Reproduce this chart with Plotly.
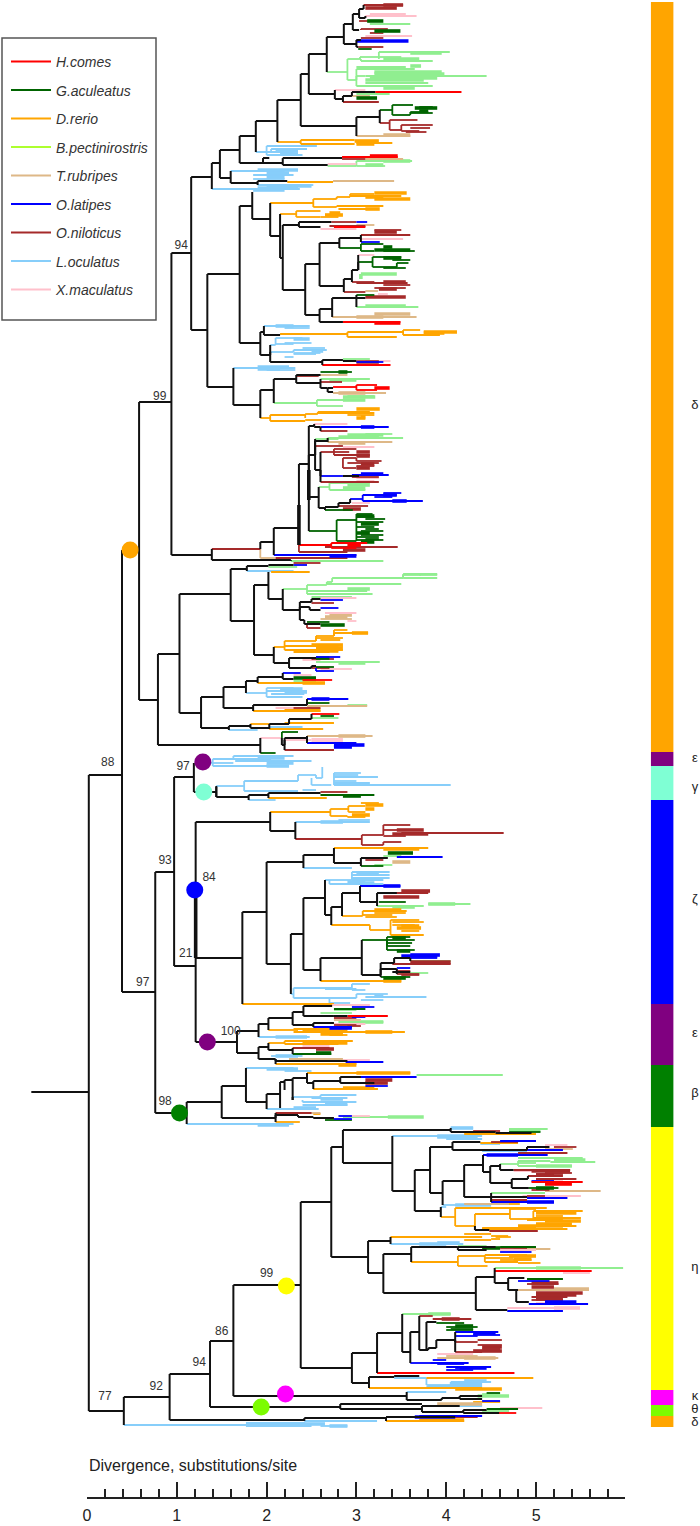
import plotly.graph_objects as go

SPECIES = ["H.comes", "G.aculeatus", "D.rerio", "B.pectinirostris", "T.rubripes",
           "O.latipes", "O.niloticus", "L.oculatus", "X.maculatus"]
LEGEND_COLORS = ["#ff0000", "#006400", "#ffa500", "#adff2f", "#deb887",
                 "#0000ff", "#a52a2a", "#87cefa", "#ffc0cb"]
TREE_COLORS = {"k": "#111111", "r": "#ff0000", "g": "#006400", "o": "#ffa500", "l": "#90ee90",
               "t": "#deb887", "b": "#0000ff", "n": "#a52a2a", "c": "#87cefa", "p": "#ffc0cb"}

# branch = (species code, start divergence, end divergence, row, parent row)
# upper-case code = densely packed tips; no parent row = no connector
BACKBONE = [
 ("k",-0.62,0.02,1092),("k",0.02,0.39,775,1092),("k",0.39,0.58,550,775),("k",0.58,0.94,402,550),
 ("k",0.94,1.16,253,402),("k",1.16,1.39,177,253),("k",1.39,1.48,163,177),("k",1.48,1.70,150,163),
 ("k",1.70,1.88,136,150),("k",1.88,2.12,121,136),("k",2.12,2.38,100,121),("k",2.38,2.47,74,100),
 ("k",2.47,2.67,54,74),("k",2.67,2.86,37,54),
 ("k",0.02,0.41,1411,1092),("k",0.41,0.92,1397,1411),("k",0.92,1.37,1374,1397),("k",1.37,1.63,1341,1374),
 ("k",1.63,2.38,1285,1341),("k",2.38,2.72,1202,1285),("k",0.39,0.76,992,775),("k",0.76,0.97,872,992),
 ("k",0.97,1.19,777,872),("k",0.97,1.21,966,872),("K",1.21,1.21,958,890),("k",1.21,1.21,822,966),("k",1.21,1.21,1042,966),
 ("K",2.36,2.36,545,505),("K",2.47,2.47,500,470),
]
DELTA_A = [
 ("k",2.86,2.96,24,37),("k",2.96,3.03,14,24),("k",3.03,3.08,9,14),("k",2.96,3.03,30,24),("k",2.86,3.00,44,37),
 ("k",3.03,3.1,18,14),("k",3.0,3.02,47,44),("k",3.0,3.05,40,44),
 ("n",3.08,3.52,5,9),("N",3.30,3.52,5),("N",3.10,3.45,8),("p",3.1,3.67,16,18),("p",3.15,3.55,14),
 ("n",3.03,3.25,21),("G",3.12,3.30,21),("l",3.15,3.60,24),("n",3.05,3.35,29,30),("G",3.20,3.49,31),("n",3.15,3.30,33),
 ("p",3.10,3.62,36),("n",3.05,3.3,38),("B",3.00,3.58,41),("n",3.02,3.30,47),("g",3.02,3.17,49),
 ("l",2.67,2.90,72,54),("l",2.90,3.04,59,72),("l",3.25,4.04,52,59),("L",3.6,3.95,53),("l",3.04,3.25,57,59),("l",3.25,3.5,57),
 ("l",3.05,3.85,61,59),("L",3.3,3.7,59),("l",2.90,3.0,80,72),("l",3.0,3.1,76,80),("l",3.1,4.45,76),("L",3.2,3.95,72),("L",3.2,3.98,74),
 ("L",3.15,3.9,78),("l",3.0,3.65,69,80),("L",3.6,3.72,66),("l",3.0,3.55,67),("L",3.1,3.75,80),("l",3.1,3.8,83),
 ("L",3.3,3.65,88),("l",3.0,3.85,86,80),
 ("k",2.47,2.76,94,74),("p",2.76,3.1,90,94),("k",2.76,2.85,99,94),("k",2.85,2.95,96,99),("k",2.95,3.21,92,96),("r",3.21,4.17,92),
 ("l",3.0,3.37,94),("t",2.95,3.15,96),("G",3.0,3.23,98),("n",2.85,3.25,102,99),
 ("k",2.38,3.0,126,100),("k",3.0,3.26,117,126),("g",3.26,3.4,110,117),("g",3.4,3.63,105,110),("g",3.4,3.6,115,110),("g",3.6,3.8,112,115),
 ("G",3.65,3.9,108),("g",3.7,3.85,107),("g",3.6,3.85,113),("G",3.7,3.8,111),
 ("n",3.26,3.37,123,117),("n",3.37,3.68,120,123),("n",3.37,3.5,130,123),("n",3.5,3.85,125,130),("n",3.5,3.7,131,130),("n",3.6,3.82,128),("n",3.55,3.78,132),
 ("t",3.0,3.6,136,126),("T",3.3,3.6,135),
 ("o",2.12,2.38,142,121),("o",2.38,2.98,140,142),("o",2.38,2.98,144,142),("O",2.98,3.25,141),("O",3.0,3.2,144),("o",3.0,3.4,143),
 ("c",1.88,2.30,152,136),("c",2.0,2.56,146,152),("c",2.05,2.45,149,152),("C",2.1,2.35,151),("c",2.0,2.4,155,152),("C",2.15,2.35,154),
 ("k",1.70,1.96,163,150),("k",1.96,2.03,158,163),("k",1.96,2.18,163),("k",2.18,2.84,158,163),("k",2.18,2.68,165,163),
 ("r",2.84,3.46,157),("R",3.15,3.46,156),("n",2.84,3.1,159),("t",3.1,3.52,159),
 ("p",2.68,3.0,164),("l",2.68,3.0,166),("l",3.0,3.62,161,166),("L",3.3,3.6,161),("l",3.0,3.32,166),("L",3.1,3.3,165),
 ("k",1.48,1.60,178,163),("c",1.6,2.2,171,178),("C",1.9,2.35,170),("c",1.85,2.3,175),("C",2.0,2.25,173),("C",2.0,2.2,177),("c",1.85,2.2,179),
 ("k",1.6,1.9,183,178),("k",1.9,2.23,181,183),("o",2.23,2.74,182),("t",2.74,3.42,181),("c",1.9,2.4,185,183),("C",2.0,2.5,186),("c",2.3,2.52,185),
 ("c",1.39,2.37,189,177),("C",1.9,2.35,188),("C",1.85,2.2,190),
]
DELTA_B = [
 ("k",1.16,1.34,330,253),("k",1.34,1.70,274,330),("k",1.70,1.84,206,274),("k",1.84,1.84,192,206),("k",1.84,2.04,219,206),
 ("o",2.04,2.52,203,219),("o",2.52,2.78,199,203),("o",2.52,2.78,207,203),("o",2.78,2.93,197,199),("O",3.2,3.56,193),("o",2.93,3.2,194,197),
 ("O",3.2,3.6,199),("o",2.93,3.5,196),("O",3.1,3.3,197),("o",2.78,3.3,206,207),("O",3.1,3.26,209),("o",2.8,3.2,209),
 ("k",2.04,2.15,236,219),("o",2.15,2.33,214,236),("o",2.33,2.6,211,214),("o",2.33,2.6,217,214),("O",2.7,2.82,213),("o",2.6,2.8,217),("O",2.65,2.85,215),
 ("k",2.15,2.18,258,236),("k",2.18,2.36,225,258),("k",2.36,2.72,222,225),("n",2.72,3.0,222),("b",3.0,3.12,222),("k",2.36,2.6,227,225),
 ("p",2.6,3.0,229),("n",2.7,3.1,226),("r",2.75,3.1,227),("t",3.0,3.2,225),
 ("k",2.18,2.43,290,258),("k",2.43,2.59,264,290),("k",2.59,2.81,243,264),("k",2.81,3.05,238,243),
 ("n",3.05,3.6,235,238),("N",3.2,3.45,232),("n",3.2,3.5,230),("p",3.05,3.52,239),("b",3.05,3.26,242,238),
 ("g",2.81,3.05,248,243),("g",3.05,3.3,244,248),("g",3.05,3.2,251,248),("G",3.2,3.6,250),("g",3.3,3.65,251),("G",3.3,3.4,247),
 ("k",2.59,2.86,286,264),("k",2.86,2.95,279,286),("k",2.95,3.02,270,279),("g",3.02,3.18,262,270),("g",3.18,3.5,257,262),("G",3.3,3.5,258),("g",3.4,3.6,260),
 ("g",3.18,3.45,267,262),("g",3.45,3.58,263,267),("g",3.3,3.55,268),("p",3.02,3.2,255,270),("L",3.05,3.45,274,279),
 ("n",2.95,3.2,282,279),("n",3.0,3.57,283),("N",3.3,3.55,282),("n",3.3,3.6,285),("n",3.2,3.55,288),("N",3.25,3.45,289),
 ("n",2.86,3.1,292,286),("t",3.1,3.24,291),("p",3.24,3.35,294),
 ("k",2.43,2.59,315,290),("k",2.59,2.73,309,315),("k",2.73,3.0,298,309),("g",3.0,3.2,295,298),("N",3.1,3.55,297),("k",3.0,3.1,298),
 ("l",3.0,3.69,307,298),("L",3.1,3.55,306),("t",2.73,3.67,317,309),("T",3.2,3.6,314),("T",3.0,3.3,317),
 ("k",2.59,2.85,322,315),("r",2.85,3.49,322),("R",3.2,3.49,323),
 ("k",1.70,1.93,343,274),("k",1.93,1.97,332,343),("c",1.97,2.48,326,332),("C",2.1,2.3,326),("c",2.2,2.48,328),
 ("k",1.97,2.15,335,332),("o",2.15,2.9,334),("o",2.9,3.52,332,335),("o",3.52,3.71,330,332),("o",3.52,3.93,335,332),("o",2.9,3.45,337,335),
 ("O",3.75,4.12,332),("O",3.75,3.98,333),
 ("k",1.93,2.04,355,343),("c",2.04,2.1,345,355),("c",2.1,2.4,338,345),("c",2.1,2.3,344),("C",2.3,2.48,339),("c",2.2,2.5,343),
 ("c",2.04,2.3,352,355),("c",2.3,2.67,350,352),("c",2.4,2.65,348),("C",2.5,2.63,351),("c",2.3,2.55,354),("c",2.2,2.3,357),("c",2.3,2.6,353),
 ("k",2.04,2.62,362,355),("k",2.62,2.85,360,362),("l",2.85,3.15,359),("k",2.85,3.0,361),("b",3.0,3.3,362),("N",3.0,3.25,362),("p",3.1,3.38,361),("r",2.62,3.38,365,362),
 ("k",1.34,1.63,387,330),("c",1.63,2.32,368,387),("C",1.9,2.25,367),("C",1.9,2.15,369),("c",2.0,2.32,370),
 ("k",1.63,1.93,405,387),("k",1.93,2.08,390,405),("k",2.08,2.33,379,390),("k",2.33,2.6,375,379),("g",2.6,2.95,372),("G",2.8,2.9,372),
 ("n",2.33,2.58,376),("t",2.58,2.9,375),("k",2.33,2.6,383,379),("l",2.6,3.15,379,383),("L",2.7,3.0,380),("n",2.6,2.84,382),
 ("k",2.6,2.68,388,383),("k",2.68,2.74,388),("r",2.74,3.0,387),("r",3.0,3.23,385,387),("r",3.0,3.23,390,387),("R",3.2,3.37,388),
 ("k",2.68,2.74,392,388),("t",2.74,3.33,393),("T",2.8,3.1,393),
 ("l",2.08,2.56,403,390),("l",2.56,3.04,400,403),("l",2.56,2.85,406,403),("L",2.85,3.21,397),("L",2.85,3.1,400),("l",2.9,3.2,396),
 ("o",1.93,2.04,418,405),("o",2.04,2.43,415,418),("o",2.04,2.43,421,418),("o",2.43,2.57,414,418),("o",2.43,2.62,420),
 ("o",2.57,3.15,412,414),("O",3.0,3.26,409),("o",2.57,3.2,413),("o",2.9,3.2,415),("O",3.05,3.1,417),("O",3.0,3.1,418),
]
DELTA_C = [
 ("k",0.94,1.39,555,402),("n",1.39,1.93,549,555),("k",1.39,2.27,560,555),("k",1.93,2.08,542,549),("t",1.93,2.1,558,549),("n",2.1,2.9,558),
 ("k",2.08,2.36,528,542),("k",2.36,2.47,464,528),("k",2.47,2.53,426,464),("p",2.53,2.9,424,426),("k",2.53,2.6,427),
 ("b",2.6,3.02,427),("b",2.85,3.36,427),("B",3.05,3.2,427),("n",2.6,2.9,431,427),
 ("k",2.47,2.54,455,464),("l",2.54,2.8,439,455),("k",2.54,2.68,441,455),("l",2.68,3.52,438,441),("L",2.9,3.3,435),("L",2.8,3.25,437),("l",3.1,3.4,434),
 ("t",2.68,3.4,442,441),("T",2.8,3.1,443),("n",2.54,2.85,446,455),("p",2.85,3.2,447),
 ("k",2.54,2.6,470,455),("n",2.6,2.92,452,470),("n",2.75,3.0,449,452),("n",2.75,3.15,455,452),("N",3.0,3.15,452),("N",3.0,3.15,456),
 ("n",2.85,3.0,458),("n",3.0,3.28,461,458),("n",2.9,3.25,463),("N",3.05,3.2,464),("n",3.0,3.2,466),("n",2.85,3.0,468,458),("N",3.0,3.15,468),
 ("b",2.6,2.85,476,470),("k",2.85,3.03,476),("B",3.05,3.3,474),("b",2.95,3.36,475),("n",2.95,3.25,477),("p",3.0,3.25,478),
 ("n",2.6,3.25,482,470),("p",3.0,3.2,481),
 ("k",2.47,2.58,497,464),("l",2.58,2.7,487,497),("l",2.7,3.15,483,487),("l",2.7,3.1,490,487),("L",2.9,3.15,485),("L",2.85,3.1,488),
 ("k",2.58,2.65,508,497),("k",2.65,2.8,507,508),("k",2.8,2.93,503,507),("b",2.93,3.07,499,503),("b",3.07,3.45,495,499),("b",3.07,3.74,501,499),("B",3.4,3.56,501),
 ("b",3.3,3.5,493),("B",3.3,3.45,495),("b",3.2,3.4,497),("p",2.95,3.15,503),
 ("n",2.8,3.13,506),("N",2.85,3.05,509),("g",2.65,2.96,510,508),
 ("g",2.47,2.78,531,464),("g",2.78,3.0,520,531),("g",2.78,3.0,541,531),("g",3.0,3.18,514,541),("g",3.0,3.2,517),("g",3.1,3.32,519),("G",3.0,3.2,516),
 ("g",3.0,3.3,522),("G",3.05,3.25,524),("g",3.0,3.2,527),("g",3.1,3.25,529),("g",3.05,3.3,531),("G",3.0,3.15,533),("g",3.05,3.3,535),
 ("g",3.0,3.25,537),("g",3.0,3.3,540),("G",3.05,3.2,542),("g",3.1,3.25,539),
 ("r",2.36,2.72,545,528),("r",2.72,3.12,543,545),("R",2.9,3.05,545),("r",2.72,3.0,548,545),("n",2.65,3.46,547),("N",2.85,3.1,550),("n",2.36,2.9,552,545),
 ("b",2.08,3.0,555,542),("B",2.7,3.0,556),("l",2.27,3.3,561,560),
 ("k",0.58,0.79,700,550),("k",0.79,1.03,654,700),("k",1.03,1.60,594,654),("k",1.6,1.78,569,594),("k",1.78,2.02,566,569),("c",1.78,2.3,571,569),
 ("l",2.02,2.34,567),("k",2.02,2.3,565),("n",2.3,2.6,563),("b",2.3,2.45,565),("o",2.05,2.48,572),
 ("k",1.6,1.86,621,594),("k",1.86,2.02,585,621),("k",2.02,2.18,599,585),("k",2.02,2.02,572,585),
 ("l",2.18,2.45,589,599),("l",2.45,2.67,585,589),("l",2.67,2.73,582,585),("l",2.73,3.52,578,582),("l",2.67,3.5,584),
 ("l",3.52,3.72,575,578),("l",3.52,3.9,574,578),("l",3.52,3.9,578),("l",3.7,3.9,575),
 ("l",2.45,3.18,594,589),("l",2.45,3.12,591),("L",2.9,3.15,589),("l",2.5,2.95,597),
 ("k",2.18,2.37,610,599),("k",2.37,2.5,602,610),("k",2.5,2.6,599,602),("b",2.6,2.85,600),("p",2.6,3.0,598),("n",2.5,2.75,603),
 ("k",2.37,2.48,607,610),("b",2.6,2.8,608),("k",2.48,2.6,610,607),("p",2.65,3.0,613),("T",2.65,2.9,617),("T",2.7,2.95,615),("t",2.6,2.95,619),("p",2.9,3.0,621),
 ("k",2.37,2.42,620,610),("k",2.42,2.6,624,620),("G",2.6,2.87,625),("n",2.45,2.6,628,624),("g",2.45,2.7,622),
 ("k",1.86,2.08,655,621),("o",2.08,2.2,647,655),("o",2.2,2.55,641,647),("o",2.55,2.75,636,641),("o",2.75,3.13,633,636),("O",2.95,3.13,633),("o",2.75,2.9,630,636),
 ("o",2.55,2.85,638,641),("o",2.6,2.82,640),("o",2.2,2.8,646,647),("O",2.5,2.85,645),("O",2.55,2.85,648),("o",2.2,2.85,650,647),("O",2.55,2.8,651),("o",2.3,2.7,652),
 ("k",2.08,2.25,663,655),("k",2.25,2.55,658,663),("b",2.55,2.82,657),("n",2.5,2.75,659),("G",2.55,2.7,658),("p",2.4,2.6,660),
 ("k",2.25,2.5,668,663),("k",2.5,2.55,666,668),("l",2.55,3.26,662),("L",2.8,3.1,663),("g",2.55,2.75,667),("p",2.6,2.95,669),("n",2.5,2.7,668),("b",2.55,2.75,671,668),
 ("k",1.03,1.27,713,654),("k",1.27,1.52,697,713),("k",1.52,1.77,687,697),("k",1.77,1.9,681,687),("k",1.9,2.18,677,681),("b",2.18,2.38,673,677),("p",2.3,2.5,675),
 ("k",2.18,2.3,679,677),("G",2.3,2.55,678),("r",2.4,2.73,680),("l",2.3,2.55,681),("o",1.9,2.65,683,681),("O",2.4,2.65,683),
 ("c",1.77,2.0,693,687),("c",2.0,2.3,688,693),("c",2.0,2.45,691),("c",2.05,2.42,694),("c",2.0,2.4,697,693),("C",2.2,2.45,692),("C",2.15,2.4,689),
 ("k",1.52,1.85,708,697),("k",1.85,2.45,705,708),("b",2.45,2.91,699,705),("B",2.5,2.7,699),("g",2.45,2.7,703),("t",2.45,3.12,706),("l",2.9,3.12,705),("p",2.1,2.5,708),
 ("o",1.85,2.6,711,708),("O",2.2,2.6,710),("n",2.3,2.6,708),
 ("k",1.27,1.58,728,713),("k",1.58,1.82,726,728),("c",1.58,1.9,730,728),("o",1.82,2.03,724,726),("k",1.82,2.03,728,726),("k",2.03,2.25,724,728),
 ("o",2.2,2.55,723),("k",2.25,2.5,719,724),("r",2.5,2.81,714,719),("l",2.5,2.8,718),("g",2.6,2.75,716),("o",2.25,2.75,723),("o",2.03,2.63,729,728),("c",2.03,2.4,727),
 ("k",0.79,1.93,745,700),("p",1.93,2.17,738,745),("k",2.17,2.2,745,738),("g",2.17,2.35,732,738),("p",2.2,2.5,740,745),("k",2.2,2.45,738,745),
 ("t",2.45,3.18,736,738),("T",2.8,3.1,736),("p",2.5,2.85,739),("b",2.45,3.0,743,738),("B",2.75,3.09,745),("B",2.75,2.95,747),("p",2.5,2.85,741),("n",2.2,2.75,750,745),
 ("g",1.93,2.1,753,745),
]
EPS_GAMMA = [
 ("c",1.38,1.63,763),("c",1.4,2.05,759,766),("c",1.4,2.2,766),("c",1.63,2.3,756,759),("C",1.9,2.2,758),("c",1.65,2.5,761),("C",2.0,2.3,763),("C",2.0,2.25,766),
 ("k",1.19,1.44,792,777),("k",1.19,1.19,763,777),("k",1.44,1.44,787,797),
 ("c",1.44,1.75,786,792),("c",1.75,2.35,781,786),("c",1.75,2.35,791,786),("c",2.35,2.55,775,781),("c",2.55,2.62,778,775),("c",2.62,2.62,767,778),
 ("c",2.5,2.72,785,778),("c",2.75,3.05,773,785),("c",2.75,3.02,775),("c",2.75,3.24,777),("c",2.75,3.0,781),("c",2.75,3.15,783),("c",2.75,4.05,785),("c",2.4,2.55,790),
 ("k",1.44,1.8,797,792),("k",1.8,2.02,795,797),("k",2.02,2.6,793,795),("n",2.6,2.9,792),("g",2.6,3.2,795),("G",2.85,3.05,796),("o",2.02,2.67,798,795),("c",1.8,2.1,800,797),
]
ZETA = [
 ("k",1.21,2.04,822,822),("o",2.04,2.71,812,822),("o",2.71,2.91,809,812),("o",2.71,2.9,816,812),("o",2.91,3.1,806,809),("o",2.91,3.1,812,809),("o",2.9,3.1,817,816),
 ("O",3.1,3.3,805),("O",3.1,3.2,809),("o",3.05,3.25,803),("O",2.95,3.15,815),
 ("k",2.04,2.32,831,822),("c",2.32,3.15,822,831),("C",2.6,2.85,822),("c",2.8,3.15,820),
 ("n",2.32,3.06,839,831),("n",3.06,3.3,835,839),("n",3.06,3.3,845,839),("n",3.3,3.6,825,835),("n",3.3,3.55,830),("n",3.3,3.55,836),("n",3.3,3.5,842,845),
 ("N",3.45,3.75,830),("N",3.4,3.8,834),("n",3.5,4.64,833),
 ("k",1.21,1.73,958),("k",1.73,2.0,912,958),("k",2.0,2.41,862,912),("k",2.41,2.75,855,862),("o",2.75,3.8,848,855),("O",3.3,3.7,849),
 ("k",2.75,3.05,863,855),("k",3.05,3.35,858,863),("G",3.35,3.63,853),("b",3.45,3.96,857),("l",3.3,3.5,856),("T",3.4,3.6,862),("g",3.05,3.3,866,863),("l",3.2,3.4,865),("n",3.1,3.3,860),
 ("c",2.41,2.95,868,862),
 ("k",2.0,2.27,964,912),("k",2.27,2.41,934,964),("k",2.41,2.65,898,934),("c",2.65,2.95,880,898),("c",2.95,3.37,872,880),("c",2.95,3.37,875),("C",3.0,3.25,873),
 ("c",2.95,3.37,878),("c",2.95,3.3,880),("C",3.0,3.2,883),("c",2.7,3.3,884,880),("C",2.9,3.1,882),
 ("k",2.65,2.72,915,898),("k",2.72,2.84,907,915),("k",2.84,3.04,893,907),("b",3.04,3.49,886,893),("B",3.3,3.49,886),
 ("k",3.04,3.23,902,893),("k",3.23,3.45,893,902),("N",3.5,3.82,891),("n",3.3,3.8,893),("N",3.3,3.7,897),("p",3.3,3.6,896),("g",3.25,3.55,902),("l",3.23,3.75,906,902),
 ("l",3.8,4.27,904),("L",3.8,4.1,904),("L",3.4,3.65,907),
 ("o",2.84,3.07,916,907),("o",3.07,3.56,911,916),("o",3.07,3.4,915),("O",3.2,3.5,910),("o",3.2,3.55,913),("o",3.1,3.45,917),
 ("o",2.72,3.15,925,915),("o",3.15,3.38,930,925),("o",3.38,3.7,920,930),("o",3.4,3.75,922),("o",3.4,3.65,925),("O",3.5,3.7,926),("O",3.45,3.72,928),("o",3.5,3.7,931),("o",3.38,3.75,935,930),
 ("k",2.41,2.6,970,934),("k",2.6,3.06,958,970),("g",3.06,3.34,940,958),("g",3.34,3.6,937,940),("g",3.34,3.65,940),("G",3.4,3.55,938),("g",3.34,3.62,943,940),("g",3.34,3.6,946,940),("g",3.34,3.65,950,940),("G",3.45,3.6,951),
 ("k",3.06,3.27,975,958),("k",3.27,3.42,963,975),("k",3.42,3.6,958,963),("B",3.6,3.93,955),("b",3.6,3.9,958),("B",3.5,3.9,956),("l",3.6,4.05,961,958),("N",3.6,4.05,962),("n",3.4,4.05,964),
 ("k",3.27,3.45,969,975),("b",3.45,3.6,968),("n",3.45,3.7,974,969),("k",3.4,3.6,972),("l",3.5,3.8,973),("n",3.45,3.6,971),("g",3.27,3.6,977,975),("G",3.3,3.55,978),("n",3.5,3.7,975),
 ("o",2.6,3.5,981,970),("O",3.3,3.5,981),
 ("c",2.27,2.3,994,964),("c",2.3,2.95,988,994),("c",2.95,3.15,984,988),("c",2.95,3.1,990,988),("c",2.65,3.0,989),("c",2.3,3.0,998,994),("c",3.0,3.35,994,998),("c",3.1,3.78,997),
 ("C",3.2,3.3,996),("c",3.05,3.3,1000),("c",2.7,2.93,1003,998),
 ("o",1.73,2.75,1004,958),
]
EPS_BETA = [
 ("k",1.21,1.67,1042),("k",1.67,1.91,1031,1042),("k",1.91,2.02,1024,1031),("k",2.02,2.29,1018,1024),("k",2.29,2.41,1012,1018),("k",2.41,2.73,1006,1012),("p",2.73,3.15,1005),
 ("b",2.95,3.2,1007),("g",2.75,3.1,1009),("l",2.75,3.0,1010),("k",2.41,2.74,1016,1012),("k",2.74,2.9,1016),("r",2.9,3.35,1016),("l",2.6,2.95,1013),("b",2.95,3.1,1017),("n",2.75,3.0,1018),("t",2.75,3.05,1020),
 ("k",2.29,2.52,1025,1018),("k",2.52,2.75,1023,1025),("p",2.75,3.1,1024),("n",2.75,3.0,1025),("l",2.8,3.3,1022),("L",3.05,3.3,1022),("b",2.52,2.95,1027,1025),("n",2.9,3.05,1026),("B",2.7,2.95,1028),
 ("o",2.02,2.35,1030,1024),("o",2.3,3.54,1032),("O",3.1,3.4,1032),("o",2.3,2.9,1029),("O",2.4,2.9,1031),("o",2.7,2.9,1035),("O",2.6,2.85,1034),
 ("c",1.91,2.48,1037,1031),("C",2.1,2.45,1037),
 ("k",1.67,1.91,1053,1042),("k",1.91,2.02,1047,1053),("o",2.02,2.2,1043,1047),("o",2.2,2.96,1041,1043),("o",2.2,2.8,1044,1043),("O",2.4,2.9,1043),("O",2.7,2.85,1042),
 ("k",2.02,2.29,1050,1047),("n",2.29,2.7,1048,1050),("p",2.4,2.7,1046),("N",2.55,2.75,1049),("g",2.29,2.72,1054,1050),("G",2.55,2.72,1053),
 ("k",1.91,2.1,1059,1053),("c",2.05,2.4,1056),("C",2.1,2.35,1056),("k",2.1,2.9,1061,1059),("t",2.25,2.85,1059),("p",2.85,3.15,1060),("b",2.88,3.3,1062),("o",2.1,3.0,1064,1059),("O",2.8,3.0,1065),
 ("k",0.76,1.11,1113,992),("k",1.11,1.5,1102,1113),("k",1.5,1.77,1086,1102),("c",1.77,2.3,1068,1086),("C",2.0,2.35,1069),("c",2.2,2.5,1071),
 ("k",1.77,2.0,1102,1086),("k",2.0,2.15,1094,1102),("k",2.15,2.2,1082,1094),("k",2.15,2.15,1108,1094),("k",2.2,2.29,1080,1082),("k",2.2,2.2,1090,1082),("k",2.29,2.45,1078,1080),("k",2.29,2.29,1100,1080),
 ("o",2.45,3.6,1073,1078),("O",3.0,3.6,1073),("k",2.45,2.52,1083,1078),("k",2.52,2.82,1081,1083),("k",2.82,3.05,1077,1081),("b",2.95,3.67,1077),("l",3.67,4.63,1075),
 ("k",2.82,3.2,1083,1081),("N",3.1,3.4,1080),("N",3.1,3.35,1083),("b",3.1,3.35,1086),("o",2.52,3.24,1089,1083),("O",2.85,3.2,1088),
 ("c",2.29,2.6,1097,1100),("c",2.6,3.0,1095,1097),("c",2.5,2.9,1098),("C",2.6,2.85,1099),("c",2.4,3.0,1102,1100),("C",2.65,2.9,1104),("c",2.4,2.9,1105),
 ("c",2.0,2.58,1109,1102),("C",2.3,2.55,1108),
 ("k",1.5,2.1,1118,1102),("n",2.1,2.5,1113,1118),("k",2.1,2.35,1115,1118),("o",2.1,2.37,1122,1118),
 ("k",2.35,2.52,1117,1115),("o",2.52,2.6,1114),("t",2.45,2.6,1113),("k",2.52,2.75,1118,1117),("b",2.75,2.95,1119),("g",2.65,2.95,1120),("l",2.85,3.74,1117),("L",3.35,3.75,1117),("p",2.85,3.15,1116),("b",2.8,2.95,1116),
 ("c",1.11,2.3,1124,1113),("C",1.9,2.25,1125),
]
ETA_A = [
 ("k",2.72,2.85,1147,1202),("k",2.85,4.05,1130,1147),("c",4.05,4.3,1128,1130),("C",4.05,4.3,1128),("k",4.05,4.55,1132,1130),("k",4.55,4.95,1133),
 ("l",4.7,5.13,1129),("L",4.7,5.05,1130),("g",4.7,5.05,1132),("o",4.2,5.0,1134),("n",4.3,4.6,1131),
 ("k",2.85,3.4,1163,1147),("c",3.4,4.4,1136,1163),("C",3.9,4.3,1136),("C",3.9,4.35,1137),("c",4.0,4.4,1139),
 ("k",3.4,3.65,1191,1163),("k",3.65,3.82,1170,1191),("k",3.82,4.07,1147,1170),("k",4.07,4.38,1142,1147),("o",4.38,4.8,1143),("b",4.6,5.0,1141),("c",4.38,4.6,1144),("n",4.5,4.8,1142),
 ("k",4.07,4.9,1150,1147),("k",4.9,5.15,1147,1150),("p",5.1,5.35,1145),("n",5.2,5.45,1147),("t",5.1,5.41,1149),("c",4.4,4.9,1151),("b",4.9,5.3,1150),("n",4.9,5.35,1153),
 ("k",3.82,3.96,1193,1170),("k",3.96,4.2,1181,1193),("k",4.2,4.41,1165,1181),("b",4.41,5.13,1155,1165),("B",4.45,4.8,1155),("n",4.8,5.2,1153),
 ("k",4.41,4.49,1172,1165),("k",4.49,4.6,1166,1172),("l",4.6,4.8,1164,1166),("l",4.8,5.16,1161,1164),("l",4.8,5.52,1158),("l",5.16,5.66,1162),("L",5.2,5.55,1160),("l",4.8,5.4,1166,1164),("L",5.0,5.4,1166),("l",4.8,5.0,1163),
 ("k",4.6,4.75,1170,1166),("n",4.75,5.38,1170),("N",4.95,5.38,1171),("p",4.75,5.0,1171),("n",5.0,5.3,1174),
 ("k",4.49,4.73,1183,1172),("k",4.73,4.91,1179,1183),("n",4.91,5.3,1176,1179),("N",5.0,5.2,1175),("n",5.1,5.4,1173),("b",4.95,5.2,1181),("n",5.0,5.45,1179),("r",4.95,5.52,1182),("R",5.1,5.4,1184),("p",5.0,5.3,1180),
 ("k",4.73,4.92,1188,1183),("g",4.92,5.25,1188),("G",5.0,5.2,1188),("t",5.1,5.72,1191),("n",4.95,5.15,1190),
 ("k",4.2,4.5,1197,1181),("l",4.5,5.1,1193,1197),("k",4.5,4.9,1197),("p",4.85,5.5,1196),("n",4.9,5.1,1196),("b",4.9,5.35,1198),("b",4.5,5.2,1202,1197),("B",4.9,5.2,1202),("n",4.5,4.9,1200),
 ("c",3.96,4.3,1205,1193),("C",4.1,4.5,1205),("t",4.2,4.7,1204),("o",4.5,4.82,1204),
 ("k",3.65,3.94,1211,1191),("c",3.94,4.0,1207,1211),("o",3.94,4.1,1217,1211),("o",4.1,5.12,1208,1217),("o",4.1,4.32,1226,1217),("o",4.32,4.71,1214,1226),("o",4.71,5.0,1209,1214),
 ("o",4.71,4.97,1219,1214),("o",4.97,5.52,1211,1219),("O",5.0,5.45,1213),("o",5.0,5.3,1216),("O",5.1,5.5,1221),("O",5.0,5.4,1224),("o",4.97,5.5,1218),("o",5.1,5.45,1226),("o",4.9,5.3,1220),
 ("k",4.32,4.48,1230,1226),("n",4.48,5.02,1231),("o",4.4,5.0,1228),("O",4.8,5.3,1226),("o",4.4,5.35,1229),
 ("k",2.72,3.13,1257,1202),("k",3.13,3.38,1241,1257),("o",3.38,4.4,1237,1241),("o",4.2,4.5,1234),("o",4.2,4.5,1240),("o",4.5,4.69,1236),("o",4.5,4.6,1239),("o",4.55,4.72,1237),
 ("c",3.38,4.19,1244,1241),("C",3.7,4.0,1244),("C",3.9,4.15,1243),
 ("k",3.13,3.3,1273,1257),("k",3.3,3.61,1254,1273),("k",3.61,4.13,1247,1254),("l",4.13,4.45,1246),("k",4.13,4.55,1247),("G",4.4,4.6,1248),("g",4.6,5.0,1247),("t",4.75,5.16,1249),
 ("p",4.6,5.0,1250),("b",4.6,4.95,1252),("n",4.6,4.9,1248),("k",4.13,4.45,1250,1247),
 ("o",3.61,4.13,1262,1254),("o",4.13,4.43,1256,1262),("o",4.43,4.9,1255,1256),("o",4.43,4.75,1258),("o",4.43,4.8,1262,1256),("O",4.7,5.0,1256),("O",4.75,4.95,1259),("o",4.8,5.05,1263),("o",4.6,4.95,1260),("o",4.13,4.46,1266,1262),
 ("k",3.3,4.33,1293,1273),("k",4.33,4.54,1277,1293),("l",4.54,5.97,1268,1277),("L",5.0,5.5,1268),("r",4.54,5.62,1271),("p",5.3,5.6,1273),
 ("k",4.54,4.69,1283,1277),("k",4.69,4.87,1278,1283),("g",4.9,5.3,1279),("b",4.8,5.15,1281),("n",4.9,5.25,1284),("N",4.95,5.25,1283),("N",4.95,5.2,1287),
 ("k",4.69,4.8,1290,1283),("t",4.8,5.59,1290),("T",5.2,5.59,1289),("k",4.78,4.92,1302,1290),("N",5.0,5.52,1293),("N",5.0,5.45,1295),("n",4.95,5.35,1297),("N",5.0,5.3,1299),("n",4.95,5.3,1300),
 ("b",4.92,5.58,1304),("B",5.1,5.45,1302),("p",5.0,5.3,1303),
 ("k",4.33,4.68,1310,1293),("p",4.68,5.49,1308),("P",5.2,5.49,1308),("b",4.68,5.3,1311),
]
ETA_B = [
 ("k",2.38,2.95,1368,1285),("k",2.95,3.23,1353,1368),("k",3.23,3.51,1333,1353),("l",3.51,4.05,1314,1333),("L",3.8,4.05,1314),
 ("k",3.51,3.6,1352,1333),("k",3.6,3.7,1332,1352),("n",3.7,3.85,1316,1332),("n",3.85,4.28,1319),("N",3.95,4.15,1319),
 ("k",3.7,3.8,1350,1332),("k",3.78,3.89,1322,1350),("g",3.89,4.2,1323),("g",4.0,4.35,1327),("g",4.05,4.3,1329),("G",4.1,4.3,1326),("g",4.0,4.3,1330),
 ("k",3.8,3.89,1348,1350),("k",3.89,4.1,1340,1348),("b",4.1,4.58,1332,1340),("B",4.3,4.55,1333),("b",4.3,4.6,1335),("b",4.1,4.35,1336),
 ("n",4.1,4.35,1342,1340),("n",4.35,4.62,1340),("n",4.35,4.62,1345),("N",4.4,4.62,1347),("n",4.1,4.4,1352,1340),("N",4.3,4.62,1351),("n",4.4,4.6,1349),
 ("p",3.9,4.3,1354),("t",3.9,4.58,1358),("T",4.2,4.55,1358),("t",4.0,4.35,1356),
 ("b",3.6,3.82,1363,1352),("b",3.82,4.25,1363),("b",3.85,4.0,1360),("b",4.0,4.5,1367),("B",4.15,4.45,1368),("b",4.1,4.44,1368),("b",4.0,4.3,1370),("b",3.9,4.2,1364),
 ("r",3.23,4.76,1373,1353),
 ("k",2.95,3.14,1383,1368),("k",3.14,3.42,1377,1383),("k",3.42,3.7,1376),("c",3.42,3.78,1378),("o",3.78,4.97,1378),("c",3.78,4.05,1385,1378),("c",4.05,4.5,1382,1385),("c",4.05,4.4,1384),("C",4.2,4.45,1381),("c",3.8,4.4,1386),("c",3.78,4.3,1387),
 ("o",3.14,4.4,1388,1383),("O",4.1,4.62,1389),
]
BASAL = [
 ("k",1.63,3.56,1396,1341),("c",3.56,4.0,1392,1396),("k",3.56,3.95,1400,1396),("k",3.95,4.15,1398,1400),("k",4.15,4.4,1396,1398),("l",4.4,4.6,1394),("g",4.45,4.6,1393),("L",4.35,4.7,1396),
 ("b",4.4,4.6,1401),("k",4.15,4.4,1399,1398),("T",3.9,4.4,1404),("c",3.9,4.4,1406),("o",4.3,4.6,1402),
 ("k",1.37,2.82,1407,1374),("k",2.82,3.73,1404,1407),("k",2.82,3.73,1409,1407),("k",3.73,4.15,1406,1409),("k",3.73,4.19,1412,1409),("k",4.19,4.45,1410,1412),("k",4.19,4.59,1413,1412),
 ("g",4.45,4.8,1409),("p",4.6,5.07,1408),("l",4.4,4.7,1411),("r",4.55,4.78,1413),
 ("k",0.92,2.42,1420,1397),("k",2.42,3.33,1418,1420),("c",2.42,3.23,1421,1420),("k",3.33,4.1,1417,1418),("b",3.7,4.4,1416),("B",3.65,4.1,1417),("n",3.7,4.35,1417),("o",3.33,4.2,1421,1418),("O",3.7,4.2,1420),
 ("c",0.41,2.4,1425,1411),("c",1.77,2.43,1423),("c",1.77,2.5,1426),("C",2.35,2.65,1424),("c",2.6,2.9,1426),("C",2.7,2.9,1426),
]

CLADE_NAMES = ["δ", "ε", "γ", "ζ", "ε", "β", "η", "κ", "θ", "δ"]
CLADE_TOP = [2, 752, 766, 800, 1004, 1065, 1127, 1390, 1405, 1416]
CLADE_BOTTOM = [752, 766, 800, 1004, 1065, 1127, 1390, 1405, 1416, 1427]
CLADE_COLORS = ["#ffa500", "#800080", "#7fffd4", "#0000ff", "#800080", "#008000", "#ffff00", "#ff00ff", "#7cfc00", "#ffa500"]
CLADE_LABEL_ROW = [406, 759, 788, 900, 1034, 1094, 1268, 1397, 1410, 1423]

SUPPORT = ["88", "97", "93", "84", "21", "100", "98", "97", "99", "94", "99", "86", "94", "92", "77"]
SUPPORT_X = [0.23, 0.62, 0.87, 1.36, 1.10, 1.60, 0.87, 1.07, 0.81, 1.05, 2.00, 1.50, 1.25, 0.77, 0.20]
SUPPORT_ROW = [763, 983, 861, 878, 954, 1032, 1102, 767, 397, 246, 1274, 1332, 1363, 1387, 1397]

NODE_X = [0.48, 1.29, 1.30, 1.20, 1.34, 1.03, 2.22, 2.21, 1.94]
NODE_ROW = [550, 762, 792, 890, 1042, 1113, 1286, 1394, 1407]
NODE_COLORS = ["#ffa500", "#800080", "#7fffd4", "#0000ff", "#800080", "#008000", "#ffff00", "#ff00ff", "#7cfc00"]

ALL_BRANCHES = BACKBONE + DELTA_A + DELTA_B + DELTA_C + EPS_GAMMA + ZETA + EPS_BETA + ETA_A + ETA_B + BASAL

# a connector takes the colour of the branch it hangs from when that branch is an inner (black) one
inner_ends = {(br[2], br[3]) for br in ALL_BRANCHES if br[0] == "k"}

paths = {}
for br in ALL_BRANCHES:
    code, x0, x1, y = br[:4]
    px, py = paths.setdefault(code, ([], []))
    if len(br) == 5:
        if code != "k" and (x0, br[4]) in inner_ends:
            kx, ky = paths.setdefault("k", ([], []))
            kx.extend([x0, x0, None])
            ky.extend([br[4], y, None])
        else:
            px.extend([x0, x0, None])
            py.extend([br[4], y, None])
    px.extend([x0, x1, None])
    py.extend([y, y, None])

fig = go.Figure()
for code in ["l", "L", "c", "C", "o", "O", "t", "T", "p", "P", "n", "N", "g", "G", "b", "B", "r", "R", "k", "K"]:
    if code not in paths:
        continue
    thick = code.isupper()
    low = code.lower()
    width = 3.6 if thick else (2.0 if low == "k" else 1.8)
    fig.add_trace(go.Scatter(x=paths[code][0], y=paths[code][1], mode="lines", showlegend=False,
                             hoverinfo="skip", line=dict(color=TREE_COLORS[low], width=width)))

fig.add_trace(go.Bar(orientation="h", x=[0.25] * len(CLADE_TOP), base=6.28,
                     y=[(a + b) / 2 for a, b in zip(CLADE_TOP, CLADE_BOTTOM)],
                     width=[b - a for a, b in zip(CLADE_TOP, CLADE_BOTTOM)],
                     marker=dict(color=CLADE_COLORS, line=dict(width=0)),
                     showlegend=False, hoverinfo="skip"))
fig.add_trace(go.Scatter(x=[6.77] * len(CLADE_NAMES), y=CLADE_LABEL_ROW, mode="text", text=CLADE_NAMES,
                         textfont=dict(size=13, color="#222222", family="Liberation Sans"),
                         showlegend=False, hoverinfo="skip", cliponaxis=False))
fig.add_trace(go.Scatter(x=SUPPORT_X, y=SUPPORT_ROW, mode="text", text=SUPPORT,
                         textfont=dict(size=12, color="#333333", family="Liberation Sans"),
                         showlegend=False, hoverinfo="skip"))
fig.add_trace(go.Scatter(x=NODE_X, y=NODE_ROW, mode="markers",
                         marker=dict(size=17, color=NODE_COLORS, line=dict(width=0)),
                         showlegend=False, hoverinfo="skip"))
for name, color in zip(SPECIES, LEGEND_COLORS):
    fig.add_trace(go.Scatter(x=[None], y=[None], mode="lines", name="<i>" + name + "</i>", legendgroup=name,
                             line=dict(color=color, width=2)))
# the divergence scale is its own axis, shorter than the canvas
fig.add_trace(go.Scatter(x=[0, 5.99], y=[None, None], xaxis="x2", yaxis="y", mode="lines",
                         showlegend=False, hoverinfo="skip"))

fig.update_layout(
    width=700, height=1526, margin=dict(l=0, r=0, t=0, b=0, autoexpand=False),
    paper_bgcolor="white", plot_bgcolor="rgba(0,0,0,0)", barmode="overlay",
    legend=dict(x=6 / 700, y=1 - 46 / 1526, xanchor="left", yanchor="top", bgcolor="rgba(0,0,0,0)",
                borderwidth=0, itemwidth=40, tracegroupgap=7.3,
                font=dict(family="Liberation Sans", size=14, color="#333333"), itemclick=False, itemdoubleclick=False),
    xaxis=dict(domain=[0, 1], range=[-87 / 89.8, 613 / 89.8], visible=False),
    xaxis2=dict(domain=[87 / 700, 625 / 700], range=[0, 5.99], anchor="free", position=1 - 1498 / 1526,
                showgrid=False, zeroline=False, showline=True, linecolor="#222222", linewidth=2,
                ticks="inside", ticklen=15, tickwidth=1.5, tickcolor="#222222", tickmode="array",
                tickvals=[0, 1, 2, 3, 4, 5], ticktext=["0", "1", "2", "3", "4", "5"],
                ticklabelstandoff=3, tickfont=dict(family="Liberation Sans", size=16, color="#222222"),
                minor=dict(dtick=0.2, tick0=0, ticks="inside", ticklen=8, tickwidth=1.5, tickcolor="#222222", showgrid=False)),
    yaxis=dict(domain=[0, 1], range=[1526, 0], visible=False),
    shapes=[dict(type="rect", xref="paper", yref="paper", x0=2 / 700, x1=156 / 700, y0=1 - 320 / 1526, y1=1 - 38 / 1526,
                 line=dict(color="#555555", width=1.5), fillcolor="white", layer="below")],
    annotations=[dict(text="Divergence, substitutions/site", xref="x", yref="y", x=0, y=1465, xanchor="left",
                      yanchor="middle", showarrow=False, font=dict(family="Liberation Sans", size=16, color="#222222"))],
)
fig.write_html("out.html", config={"displayModeBar": False},
               post_script="document.body.style.margin='0';")
